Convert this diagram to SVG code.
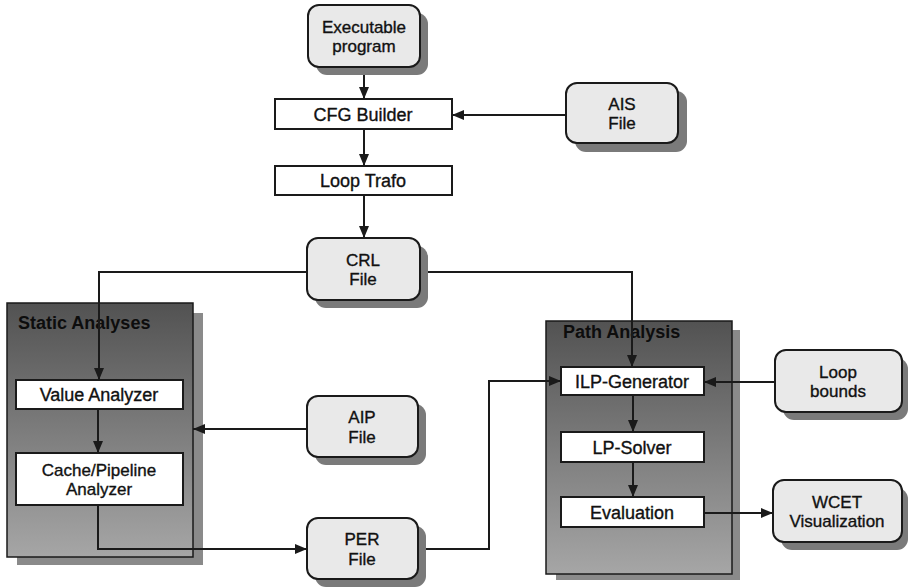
<svg xmlns="http://www.w3.org/2000/svg" width="908" height="588" viewBox="0 0 908 588">
<style>
text{font-family:"Liberation Sans",Arial,sans-serif;font-size:18px;fill:#111;stroke:#111;stroke-width:0.35;text-anchor:middle}
.two{font-size:17px}
.lbl{font-weight:bold;text-anchor:start;fill:#0d0d0d;stroke:none}
.file{fill:#e9e9e9;stroke:#1a1a1a;stroke-width:2}
.sh{fill:#7a7a7a}
.proc{fill:#fff;stroke:#1a1a1a;stroke-width:2}
.grp{stroke:#1a1a1a;stroke-width:1.5}
.gsh{fill:#8a8a8a}
.e{fill:none;stroke:#1a1a1a;stroke-width:2}
</style>
<defs>
<linearGradient id="g" x1="0" y1="0" x2="0" y2="1">
<stop offset="0" stop-color="#525252"/>
<stop offset="1" stop-color="#a6a6a6"/>
</linearGradient>
<marker id="a" viewBox="0 0 12 10" refX="12" refY="5" markerWidth="12" markerHeight="10" markerUnits="userSpaceOnUse" orient="auto">
<path d="M0,0 L12,5 L0,10 z" fill="#1a1a1a"/>
</marker>
</defs>

<g id="static-analyses">
<rect class="gsh" x="17" y="313" width="186" height="252"/>
<rect class="grp" x="7" y="303" width="186" height="254" fill="url(#g)"/>
<text class="lbl" x="18" y="329">Static Analyses</text>
</g>
<g id="path-analysis">
<rect class="gsh" x="556" y="330" width="184" height="250"/>
<rect class="grp" x="546" y="321" width="186" height="253" fill="url(#g)"/>
<text class="lbl" x="563" y="338">Path Analysis</text>
</g>

<g id="connectors">
<path class="e" d="M364,67 V99" marker-end="url(#a)"/>
<path class="e" d="M566,115 H452" marker-end="url(#a)"/>
<path class="e" d="M364,129 V166" marker-end="url(#a)"/>
<path class="e" d="M364,195 V238" marker-end="url(#a)"/>
<path class="e" d="M307,272 H99 V380" marker-end="url(#a)"/>
<path class="e" d="M420,272 H632 V367" marker-end="url(#a)"/>
<path class="e" d="M98,409 V453" marker-end="url(#a)"/>
<path class="e" d="M307,429 H193" marker-end="url(#a)"/>
<path class="e" d="M98,505 V549 H307" marker-end="url(#a)"/>
<path class="e" d="M418,549 H489 V381 H561" marker-end="url(#a)"/>
<path class="e" d="M775,382 H704" marker-end="url(#a)"/>
<path class="e" d="M633,395 V432" marker-end="url(#a)"/>
<path class="e" d="M633,462 V497" marker-end="url(#a)"/>
<path class="e" d="M704,513 H773" marker-end="url(#a)"/>
</g>

<g id="executable-program">
<rect class="sh" x="316" y="13" width="112" height="62" rx="11"/>
<rect class="file" x="308" y="5" width="112" height="62" rx="11"/>
<text class="two" x="364" y="32.5">Executable<tspan x="364" dy="19.5">program</tspan></text>
</g>
<g id="cfg-builder">
<rect class="proc" x="275" y="99" width="177" height="30"/>
<text x="363" y="121">CFG Builder</text>
</g>
<g id="loop-trafo">
<rect class="proc" x="275" y="166" width="177" height="29"/>
<text x="363" y="187">Loop Trafo</text>
</g>
<g id="ais-file">
<rect class="sh" x="575" y="91" width="112" height="61" rx="11"/>
<rect class="file" x="566" y="83" width="112" height="60" rx="11"/>
<text class="two" x="622" y="109.5">AIS<tspan x="622" dy="19.5">File</tspan></text>
</g>
<g id="crl-file">
<rect class="sh" x="315" y="246" width="113" height="62" rx="11"/>
<rect class="file" x="307" y="238" width="113" height="62" rx="11"/>
<text class="two" x="363" y="265.5">CRL<tspan x="363" dy="19.5">File</tspan></text>
</g>
<g id="value-analyzer">
<rect class="proc" x="16" y="380" width="167" height="29"/>
<text x="99" y="401">Value Analyzer</text>
</g>
<g id="cache-pipeline-analyzer">
<rect class="proc" x="16" y="453" width="167" height="52"/>
<text class="two" x="99" y="475.5">Cache/Pipeline<tspan x="99" dy="19.5">Analyzer</tspan></text>
</g>
<g id="aip-file">
<rect class="sh" x="315" y="404" width="111" height="61" rx="11"/>
<rect class="file" x="307" y="396" width="111" height="61" rx="11"/>
<text class="two" x="362" y="423">AIP<tspan x="362" dy="19.5">File</tspan></text>
</g>
<g id="per-file">
<rect class="sh" x="315" y="526" width="111" height="61" rx="11"/>
<rect class="file" x="307" y="518" width="111" height="61" rx="11"/>
<text class="two" x="362" y="545">PER<tspan x="362" dy="19.5">File</tspan></text>
</g>
<g id="ilp-generator">
<rect class="proc" x="561" y="367" width="143" height="28"/>
<text x="632" y="388">ILP-Generator</text>
</g>
<g id="lp-solver">
<rect class="proc" x="561" y="432" width="143" height="30"/>
<text x="632" y="454">LP-Solver</text>
</g>
<g id="evaluation">
<rect class="proc" x="561" y="497" width="143" height="30"/>
<text x="632" y="519">Evaluation</text>
</g>
<g id="loop-bounds">
<rect class="sh" x="783" y="358" width="125" height="62" rx="11"/>
<rect class="file" x="775" y="350" width="127" height="62" rx="11"/>
<text class="two" x="838" y="377.5">Loop<tspan x="838" dy="19.5">bounds</tspan></text>
</g>
<g id="wcet-visualization">
<rect class="sh" x="781" y="488" width="127" height="62" rx="11"/>
<rect class="file" x="773" y="480" width="129" height="62" rx="11"/>
<text class="two" x="837" y="507.5">WCET<tspan x="837" dy="19.5">Visualization</tspan></text>
</g>
</svg>
